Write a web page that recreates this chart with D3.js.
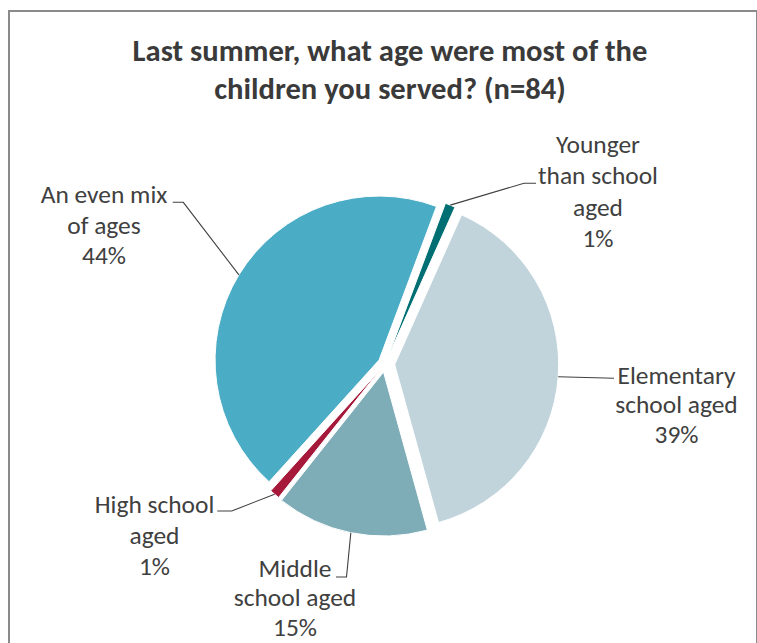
<!DOCTYPE html>
<html>
<head>
<meta charset="utf-8">
<script src="https://cdn.jsdelivr.net/npm/d3@7"></script>
<style>
  html, body { margin: 0; padding: 0; background: #ffffff; }
  svg { display: block; }
</style>
</head>
<body>
<svg id="chart" width="757" height="643"></svg>
<script>
// ---------- data ----------
const categories = ["Younger than school aged", "Elementary school aged", "Middle school aged", "High school aged", "An even mix of ages"];
const values = [1, 39, 15, 1, 44];
const labelLines = [
  ["Younger", "than school", "aged"],
  ["Elementary", "school aged"],
  ["Middle", "school aged"],
  ["High school", "aged"],
  ["An even mix", "of ages"]
];
const titleLines = ["Last summer, what age were most of the", "children you served? (n=84)"];

// ---------- styles / layout ----------
const colors = ["#006f73", "#c1d4dc", "#7eadb8", "#a6193a", "#4bacc6"];
const explode = [7.5, 9.5, 8.4, 7, 7.2];
const FONT = "Carlito, Calibri, Lato, 'Open Sans', sans-serif";
const textColor = "#404040";
const center = { x: 385.2, y: 363.8 };
const radius = 164;
const startDeg = 20.5;
// label layout: text centre x, first baseline, line height, leader elbow points (label side)
const labelLayout = [
  { cx: 598, y0: 153, lh: 31.3, elbow: [[536, 183.3], [524, 183.3]] },
  { cx: 676.5, y0: 383.5, lh: 29.7, elbow: [[614, 378.3]] },
  { cx: 295, y0: 577, lh: 29.3, elbow: [[336, 577], [346.5, 577]] },
  { cx: 154.5, y0: 513, lh: 31, elbow: [[217.3, 511], [231.7, 511]] },
  { cx: 104, y0: 203.3, lh: 30.4, elbow: [[172.7, 202.3], [183.3, 202.3]] }
];

const svg = d3.select("#chart");

// frame
svg.append("rect")
  .attr("x", 9).attr("y", 11)
  .attr("width", 748).attr("height", 660)
  .attr("fill", "none")
  .attr("stroke", "#8a8a8a")
  .attr("stroke-width", 2);

// title
const title = svg.append("text")
  .attr("text-anchor", "middle")
  .attr("font-family", FONT)
  .attr("font-weight", "bold")
  .attr("font-size", 30)
  .attr("fill", "#3a3a3a");
const titleBaselines = [60.5, 99];
titleLines.forEach((t, i) => {
  title.append("tspan").attr("x", 390).attr("y", titleBaselines[i]).text(t);
});
// fit the title font to the reference width
{
  const probe = svg.append("text").attr("font-family", FONT).attr("font-weight", "bold")
    .attr("font-size", 30).text(titleLines[0]);
  const w = probe.node().getComputedTextLength();
  probe.remove();
  title.attr("font-size", 30 * 515 / w);
}

// pie
const toRad = d => d * Math.PI / 180;
const pie = d3.pie().sort(null).value(d => d)
  .startAngle(toRad(startDeg)).endAngle(toRad(startDeg + 360));
const arcs = pie(values);
const arc = d3.arc().innerRadius(0).outerRadius(radius);

const g = svg.append("g").attr("transform", `translate(${center.x},${center.y})`);

function dirOf(a) { return [Math.sin(a), -Math.cos(a)]; }

g.selectAll("path.slice")
  .data(arcs)
  .join("path")
  .attr("class", "slice")
  .attr("d", arc)
  .attr("fill", (d, i) => colors[i])
  .attr("stroke", "#ffffff")
  .attr("stroke-width", 1)
  .attr("transform", (d, i) => {
    const m = (d.startAngle + d.endAngle) / 2;
    const [dx, dy] = dirOf(m);
    return `translate(${dx * explode[i]},${dy * explode[i]})`;
  });

// labels
let labelSize = 25;
{
  const probe = svg.append("text").attr("font-family", FONT).attr("font-size", 25).text("than school");
  const w = probe.node().getComputedTextLength();
  probe.remove();
  labelSize = 25 * 120 / w;
}

arcs.forEach((d, i) => {
  const L = labelLayout[i];
  const m = (d.startAngle + d.endAngle) / 2;
  const [dx, dy] = dirOf(m);
  const r = radius + explode[i];
  const anchor = [center.x + dx * r, center.y + dy * r];
  const pts = L.elbow.concat([anchor]);
  svg.append("path")
    .attr("d", d3.line()(pts))
    .attr("fill", "none")
    .attr("stroke", "#404040")
    .attr("stroke-width", 1.1);

  const lines = labelLines[i].concat([d3.format(".0f")(values[i]) + "%"]);
  const t = svg.append("text")
    .attr("text-anchor", "middle")
    .attr("font-family", FONT)
    .attr("font-size", labelSize)
    .attr("fill", textColor);
  lines.forEach((s, k) => {
    t.append("tspan").attr("x", L.cx).attr("y", L.y0 + k * L.lh).text(s);
  });
});
</script>
</body>
</html>
